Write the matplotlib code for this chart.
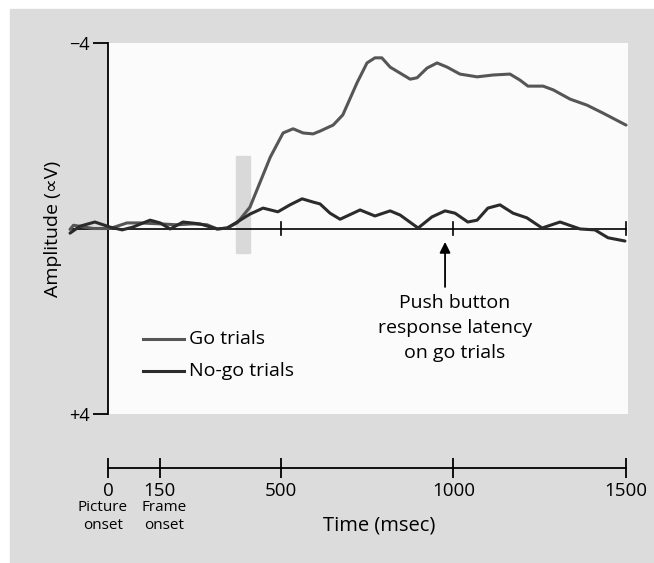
import matplotlib as mpl

mpl.use("agg")

import matplotlib.pyplot as plt
from matplotlib.patches import Rectangle
from matplotlib.transforms import blended_transform_factory

# ---- data ----
go_t = [-110, -100, -43, 6, 55, 93, 151, 200, 246, 287, 316, 345, 374, 411, 470,
        507, 536, 565, 594, 614, 643, 652, 680, 721, 750, 773, 793, 817, 846,
        875, 895, 924, 953, 982, 1019, 1069, 1115, 1164, 1193, 1216, 1260,
        1289, 1338, 1387, 1433, 1500]
go_amp = [0.02, -0.07, 0.0, 0.0, -0.12, -0.12, -0.10, -0.08, -0.10, -0.08,
          0.01, -0.01, -0.12, -0.46, -1.54, -2.06, -2.15, -2.06, -2.04, -2.10,
          -2.20, -2.23, -2.45, -3.14, -3.57, -3.68, -3.68, -3.48, -3.35, -3.22,
          -3.25, -3.46, -3.57, -3.48, -3.33, -3.27, -3.31, -3.33, -3.20, -3.07,
          -3.07, -2.99, -2.79, -2.66, -2.49, -2.23]

nogo_t = [-110, -81, -38, 6, 41, 72, 122, 151, 180, 217, 266, 316, 345, 374,
          411, 449, 492, 527, 562, 594, 614, 643, 672, 730, 773, 817, 846, 898,
          938, 976, 1005, 1042, 1069, 1100, 1135, 1173, 1213, 1257, 1309, 1367,
          1410, 1448, 1497]
nogo_amp = [0.10, -0.05, -0.14, -0.03, 0.03, -0.03, -0.18, -0.12, 0.01, -0.14,
            -0.10, 0.01, -0.01, -0.14, -0.31, -0.44, -0.36, -0.51, -0.64, -0.57,
            -0.53, -0.33, -0.20, -0.40, -0.27, -0.38, -0.29, -0.01, -0.25, -0.38,
            -0.33, -0.14, -0.18, -0.44, -0.51, -0.33, -0.23, -0.01, -0.14, 0.01,
            0.03, 0.20, 0.27]

zero_ticks = [500, 1000, 1500]
time_ticks = [0, 150, 500, 1000, 1500]
time_labels = ["0", "150", "500", "1000", "1500"]
# event name, tick it belongs to, label centre (ms)
event_labels = [("Picture\nonset", 0, -15), ("Frame\nonset", 150, 163)]
shade_t = (371, 411)
shade_amp = (-1.56, 0.53)
response_t = 976

W, H = 654, 563
FONT = ["Open Sans", "DejaVu Sans"]
plt.rcParams["font.family"] = FONT
GO_COLOR = "#565656"
NOGO_COLOR = "#2b2b2b"
BG = "#dcdcdc"

fig = plt.figure(figsize=(W / 100, H / 100), dpi=100, facecolor="white")
fig.patches.append(Rectangle((10 / W, 0), 644 / W, 554 / H,
                             transform=fig.transFigure, color=BG, zorder=-10))


def px_box(x0, y0, x1, y1):
    # pixel box (top-left origin) -> figure fraction rect
    return [x0 / W, 1 - y1 / H, (x1 - x0) / W, (y1 - y0) / H]


px_per_ms = 518.0 / 1500
xmax = 520 / px_per_ms

ax = fig.add_axes(px_box(108, 43, 628, 414))
ax.set_facecolor("#fbfbfb")
ax.set_xlim(0, xmax)
ax.set_ylim(4, -4)
for s in ["top", "right", "bottom"]:
    ax.spines[s].set_visible(False)
ax.spines["left"].set_linewidth(1.3)
ax.set_xticks([])
ax.set_yticks([-4, 4])
ax.set_yticklabels(["\u22124", "+4"], fontsize=13)
ax.tick_params(axis="y", length=11, width=1.3, pad=2)
ax.set_ylabel("Amplitude (\u221dV)", fontsize=14, labelpad=5)

# stimulus shading
ax.add_patch(Rectangle((shade_t[0], shade_amp[0]), shade_t[1] - shade_t[0],
                       shade_amp[1] - shade_amp[0], color="#d9d9d9", zorder=1))

# zero line with ticks
ax.plot([-110, 1500], [0, 0], color="black", lw=1.2, clip_on=False, zorder=2)
for t in zero_ticks:
    ax.plot([t, t], [-0.15, 0.15], color="black", lw=1.2, clip_on=False, zorder=2)

ax.plot(go_t, go_amp, color=GO_COLOR, lw=2.2, clip_on=False, zorder=3,
        solid_capstyle="round")
ax.plot(nogo_t, nogo_amp, color=NOGO_COLOR, lw=2.2, clip_on=False, zorder=4,
        solid_capstyle="round")

# legend drawn by hand
leg_x = [(143 - 108) / px_per_ms, (184 - 108) / px_per_ms]
for amp, col, lab in [(2.38, GO_COLOR, "Go trials"), (3.07, NOGO_COLOR, "No-go trials")]:
    ax.plot(leg_x, [amp, amp], color=col, lw=2.2)
    ax.text((189 - 108) / px_per_ms, amp, lab, fontsize=14, va="center", ha="left")

# response latency arrow
ax.annotate("", xy=(response_t, 0.29), xytext=(response_t, 1.26),
            arrowprops=dict(arrowstyle="-|>", color="black", lw=1.3,
                            mutation_scale=16, shrinkA=0, shrinkB=0))
ax.text(1005, 1.42, "Push button\nresponse latency\non go trials", fontsize=14,
        ha="center", va="top", linespacing=1.48)

# separate time axis
ax2 = fig.add_axes(px_box(108, 440, 628, 468))
ax2.set_facecolor("none")
ax2.set_xlim(0, xmax)
ax2.set_yticks([])
for s in ["top", "right", "left"]:
    ax2.spines[s].set_visible(False)
ax2.spines["bottom"].set_bounds(0, 1500)
ax2.spines["bottom"].set_linewidth(1.3)
ax2.set_xticks(time_ticks)
ax2.set_xticklabels(time_labels, fontsize=13.5)
ax2.tick_params(axis="x", direction="inout", length=14, width=1.3, pad=3)
trans = blended_transform_factory(ax2.transData, fig.transFigure)
for lab, tick, centre in event_labels:
    ax2.text(centre, 1 - 500 / H, lab, transform=trans, ha="center",
             va="top", fontsize=11, linespacing=1.3)
fig.text(379 / W, 1 - 526 / H, "Time (msec)", fontsize=14.5, ha="center", va="center")

fig.savefig("out.png", dpi=100, facecolor="white")
